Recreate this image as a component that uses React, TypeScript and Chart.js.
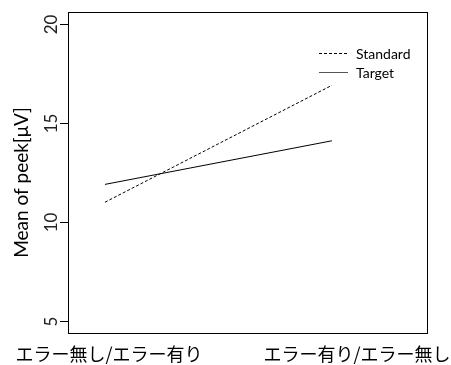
import { useEffect, useRef } from "react";
import { Chart, registerables } from "chart.js";

Chart.register(...registerables);

// Condition order on the x axis
const conditions = ["エラー無し/エラー有り", "エラー有り/エラー無し"];
// Mean peak amplitude per condition
const standardMeans = [11.0, 16.9];
const targetMeans = [11.9, 14.1];
const seriesNames = ["Standard", "Target"];
const yTickValues = [5, 10, 15, 20];

const W = 451;
const H = 365;

const framePlugin = {
  id: "interactionFrame",
  afterDraw(chart: any) {
    const ctx = chart.ctx as CanvasRenderingContext2D;
    const { left, top, right, bottom } = chart.chartArea;
    const yScale = chart.scales.y;
    const xScale = chart.scales.x;
    ctx.save();
    ctx.strokeStyle = "#000";
    ctx.lineWidth = 1;
    ctx.setLineDash([]);
    ctx.strokeRect(Math.round(left) + 0.5, Math.round(top) + 0.5, Math.round(right - left), Math.round(bottom - top));

    // y ticks and rotated labels
    ctx.fillStyle = "#222";
    ctx.font = "17px Lato";
    ctx.textAlign = "center";
    ctx.textBaseline = "middle";
    yTickValues.forEach((v) => {
      const y = Math.round(yScale.getPixelForValue(v)) + 0.5;
      ctx.beginPath();
      ctx.moveTo(left - 8, y);
      ctx.lineTo(left, y);
      ctx.stroke();
      ctx.save();
      ctx.translate(left - 16, y);
      ctx.rotate(-Math.PI / 2);
      ctx.fillText(String(v), 0, 0);
      ctx.restore();
    });

    // y axis title
    ctx.save();
    ctx.fillStyle = "#000";
    ctx.font = "19px Lato";
    ctx.translate(left - 46, (top + bottom) / 2 + 10);
    ctx.rotate(-Math.PI / 2);
    ctx.fillText("Mean of peek[μV]", 0, 0);
    ctx.restore();

    // condition labels
    ctx.fillStyle = "#000";
    ctx.font = "18px 'Noto Sans CJK JP'";
    const shifts = [4, 25];
    conditions.forEach((c, i) => {
      const x = xScale.getPixelForValue(i + 1) + shifts[i];
      ctx.fillText(c, x, bottom + 21);
    });

    // legend
    ctx.font = "14px Lato";
    ctx.textAlign = "left";
    chart.data.datasets.forEach((ds: any, i: number) => {
      const y = top + 41.5 + i * 19;
      ctx.strokeStyle = i === 0 ? "#000" : "#555";
      ctx.setLineDash(ds.borderDash || []);
      ctx.beginPath();
      ctx.moveTo(right - 108, y);
      ctx.lineTo(right - 79, y);
      ctx.stroke();
      ctx.setLineDash([]);
      ctx.fillStyle = "#000";
      ctx.fillText(ds.label, right - 71, y + 1);
    });
    ctx.restore();
  },
};

export default function App() {
  const ref = useRef<HTMLCanvasElement>(null);

  useEffect(() => {
    if (!ref.current) return;
    const toPoints = (vals: number[]) => vals.map((v, i) => ({ x: i + 1, y: v }));
    const chart = new Chart(ref.current, {
      type: "line",
      data: {
        datasets: [
          {
            label: seriesNames[0],
            data: toPoints(standardMeans),
            borderColor: "#000",
            borderWidth: 1,
            borderDash: [3, 2],
            pointRadius: 0,
            fill: false,
          },
          {
            label: seriesNames[1],
            data: toPoints(targetMeans),
            borderColor: "#000",
            borderWidth: 1,
            pointRadius: 0,
            fill: false,
          },
        ],
      },
      options: {
        responsive: false,
        animation: false,
        devicePixelRatio: 1,
        layout: { padding: { top: 12, right: 24, left: 0, bottom: 0 } },
        plugins: { legend: { display: false }, tooltip: { enabled: false } },
        scales: {
          x: {
            type: "linear",
            min: 0.837,
            max: 2.419,
            ticks: { display: false },
            grid: { display: false },
            border: { display: false },
            afterFit: (s: any) => {
              s.height = 32;
            },
          },
          y: {
            type: "linear",
            min: 4.4,
            max: 20.6,
            ticks: { display: false },
            grid: { display: false },
            border: { display: false },
            afterFit: (s: any) => {
              s.width = 68;
            },
          },
        },
      },
      plugins: [framePlugin],
    } as any);
    return () => chart.destroy();
  }, []);

  return (
    <div style={{ position: "absolute", left: 0, top: 0, width: W, height: H, background: "#fff" }}>
      <canvas ref={ref} width={W} height={H} style={{ width: W, height: H, display: "block" }} />
    </div>
  );
}
